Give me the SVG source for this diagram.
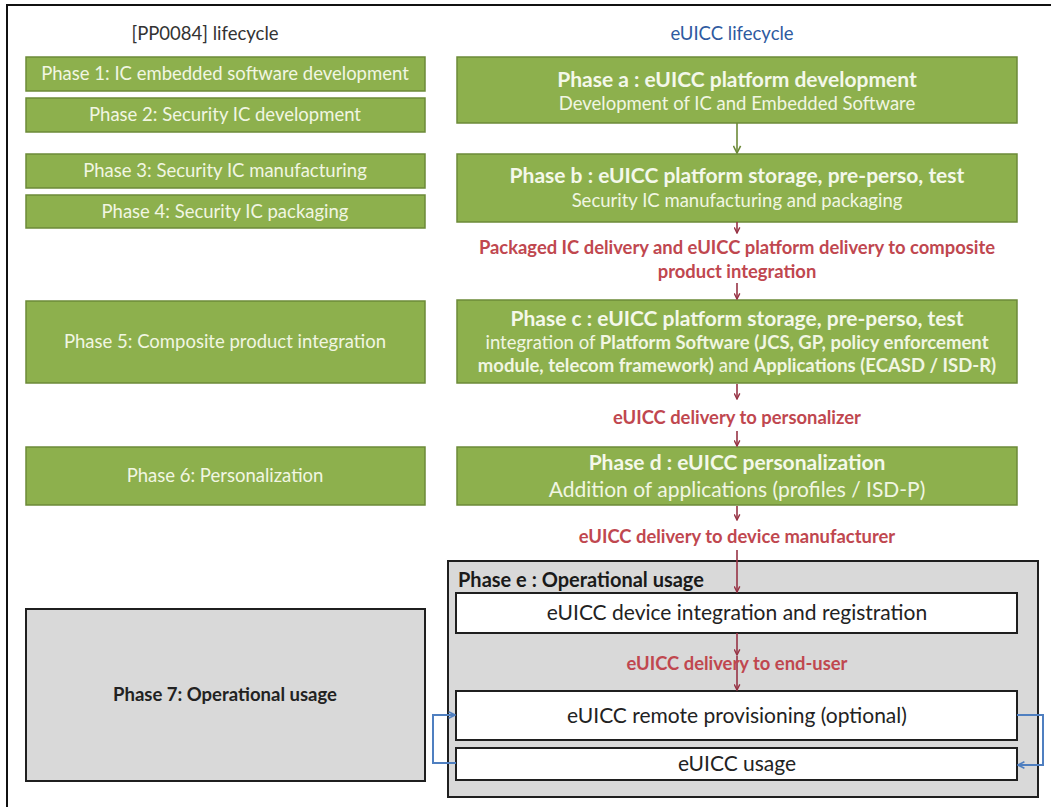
<svg xmlns="http://www.w3.org/2000/svg" width="1051" height="807" viewBox="0 0 1051 807">
<defs>
<style>
text{font-family:Lato,"Open Sans","Liberation Sans",sans-serif}
.g{fill:#8db04d;stroke:#6c8a38;stroke-width:1.5}
.gt{fill:#f1f6e2;font-size:18.5px;text-anchor:middle}
.gtb{fill:#f4f8ea;font-size:21px;font-weight:bold;text-anchor:middle}
.red{fill:#c0474f;font-size:18.4px;font-weight:bold;text-anchor:middle}
.w{fill:#ffffff;stroke:#1f1f1f;stroke-width:2}
.wt{fill:#222;font-size:21px;text-anchor:middle}
.ra{stroke:#973345;stroke-width:1.6;fill:none;marker-end:url(#mr)}
.ga{stroke:#6c8a38;stroke-width:1.6;fill:none;marker-end:url(#mg)}
.ba{stroke:#4f7fc0;stroke-width:2;fill:none;marker-end:url(#mb)}
</style>
<marker id="mr" viewBox="0 0 10 10" refX="9" refY="5" markerWidth="7" markerHeight="7" markerUnits="userSpaceOnUse" orient="auto"><path d="M1,1 L9,5 L1,9" fill="none" stroke="#973345" stroke-width="2"/></marker>
<marker id="mg" viewBox="0 0 10 10" refX="9" refY="5" markerWidth="9" markerHeight="9" markerUnits="userSpaceOnUse" orient="auto"><path d="M1,1 L9,5 L1,9" fill="none" stroke="#6c8a38" stroke-width="1.8"/></marker>
<marker id="mb" viewBox="0 0 10 10" refX="9" refY="5" markerWidth="8" markerHeight="8" markerUnits="userSpaceOnUse" orient="auto"><path d="M1,1 L9,5 L1,9" fill="none" stroke="#4f7fc0" stroke-width="2"/></marker>
</defs>
<rect x="0" y="0" width="1051" height="807" fill="#ffffff"/>
<rect x="7" y="5" width="1055" height="815" fill="none" stroke="#111" stroke-width="2"/>

<g id="headers">
<text x="205" y="40" font-size="18.5" fill="#333" text-anchor="middle">[PP0084] lifecycle</text>
<text x="732" y="40" font-size="18.5" fill="#2e5aa0" text-anchor="middle">eUICC lifecycle</text>
</g>

<g id="phase1"><rect class="g" x="26" y="57" width="399" height="34"/><text class="gt" x="225" y="80">Phase 1: IC embedded software development</text></g>
<g id="phase2"><rect class="g" x="26" y="98" width="399" height="34"/><text class="gt" x="225" y="121">Phase 2: Security IC development</text></g>
<g id="phase3"><rect class="g" x="26" y="154" width="399" height="34"/><text class="gt" x="225" y="177">Phase 3: Security IC manufacturing</text></g>
<g id="phase4"><rect class="g" x="26" y="195" width="399" height="33"/><text class="gt" x="225" y="218">Phase 4: Security IC packaging</text></g>
<g id="phase5"><rect class="g" x="26" y="301" width="399" height="82"/><text class="gt" x="225" y="348">Phase 5: Composite product integration</text></g>
<g id="phase6"><rect class="g" x="26" y="447" width="399" height="58"/><text class="gt" x="225" y="482">Phase 6: Personalization</text></g>
<g id="phase7"><rect x="26" y="609" width="399" height="172" fill="#d9d9d9" stroke="#1f1f1f" stroke-width="2"/><text x="225" y="701" font-size="18.5" font-weight="bold" fill="#222" text-anchor="middle">Phase 7: Operational usage</text></g>

<g id="phaseA"><rect class="g" x="457" y="57" width="560" height="66"/>
<text class="gtb" x="737" y="87">Phase a : eUICC platform development</text>
<text class="gt" x="737" y="110">Development of IC and Embedded Software</text></g>
<g id="phaseB"><rect class="g" x="457" y="154" width="560" height="68"/>
<text class="gtb" x="737" y="183">Phase b : eUICC platform storage, pre-perso, test</text>
<text class="gt" x="737" y="207">Security IC manufacturing and packaging</text></g>
<g id="phaseC"><rect class="g" x="457" y="300" width="560" height="83"/>
<text class="gtb" x="737" y="326">Phase c : eUICC platform storage, pre-perso, test</text>
<text class="gt" x="737" y="349">integration of <tspan font-weight="bold">Platform Software (JCS, GP, policy enforcement</tspan></text>
<text class="gt" x="737" y="372"><tspan font-weight="bold">module, telecom framework)</tspan>  and <tspan font-weight="bold">Applications (ECASD / ISD-R)</tspan></text></g>
<g id="phaseD"><rect class="g" x="457" y="447" width="560" height="58"/>
<text class="gtb" x="737" y="470">Phase d : eUICC personalization</text>
<text class="gt" x="737" y="497" style="font-size:21px">Addition of applications (profiles / ISD-P)</text></g>

<g id="phaseE"><rect x="448" y="561" width="590" height="236" fill="#d9d9d9" stroke="#1f1f1f" stroke-width="2"/>
<text x="458" y="587" font-size="20" font-weight="bold" fill="#1a1a1a">Phase e : Operational usage</text></g>
<g id="deviceIntegration"><rect class="w" x="456" y="593" width="561" height="40"/><text class="wt" x="737" y="620">eUICC device integration and registration</text></g>
<g id="remoteProvisioning"><rect class="w" x="456" y="691" width="561" height="49"/><text class="wt" x="737" y="723">eUICC remote provisioning (optional)</text></g>
<g id="usage"><rect class="w" x="456" y="748" width="561" height="32"/><text class="wt" x="737" y="771">eUICC usage</text></g>

<g id="connectors">
<line class="ga" x1="737" y1="123" x2="737" y2="153"/>
<line class="ra" x1="737" y1="222" x2="737" y2="233"/>
<line class="ra" x1="737" y1="283" x2="737" y2="299"/>
<line class="ra" x1="737" y1="384" x2="737" y2="399"/>
<line class="ra" x1="737" y1="431" x2="737" y2="446"/>
<line class="ra" x1="737" y1="506" x2="737" y2="520"/>
<line class="ra" x1="737" y1="550" x2="737" y2="592"/>
<line class="ra" x1="737" y1="633" x2="737" y2="655"/>
<line class="ra" x1="737" y1="656" x2="737" y2="690"/>
<path class="ba" d="M456,763 H433 V715 H455"/>
<path class="ba" d="M1017,715 H1043 V765 H1018"/>
</g>

<g id="labels">
<text class="red" x="737" y="254">Packaged IC delivery and eUICC platform delivery to composite</text>
<text class="red" x="737" y="278">product integration</text>
<text class="red" x="737" y="424">eUICC delivery to personalizer</text>
<text class="red" x="737" y="543">eUICC delivery to device manufacturer</text>
<text class="red" x="737" y="670">eUICC delivery to end-user</text>
</g>
</svg>
